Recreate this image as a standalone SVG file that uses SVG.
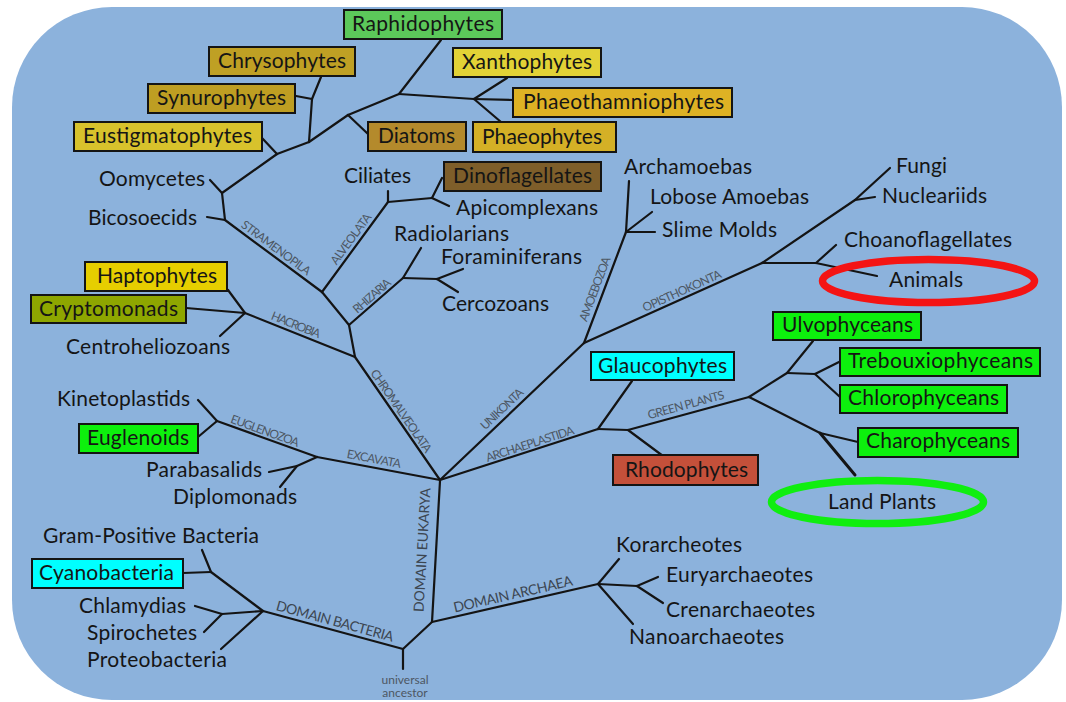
<svg xmlns="http://www.w3.org/2000/svg" width="1066" height="702" viewBox="0 0 1066 702">
<style>
.t{font-family:Lato,"Open Sans","DejaVu Sans",sans-serif;font-size:21px;fill:#151515}
.bx{stroke:#141414;stroke-width:2}
.cl{font-family:Lato,"Open Sans","DejaVu Sans",sans-serif;font-size:12px;fill:#4c5763;text-anchor:middle}
.dl{font-family:Lato,"Open Sans","DejaVu Sans",sans-serif;font-size:14px;fill:#3c4651;text-anchor:middle}
.ua{font-family:Lato,"Open Sans","DejaVu Sans",sans-serif;font-size:12px;fill:#4c5763;text-anchor:middle}
#connectors line{stroke:#141414;stroke-width:2.2;stroke-linecap:round}
.ring{fill:none;stroke-width:7.5}
</style>
<rect x="12" y="7" width="1050" height="693" rx="100" ry="100" fill="#8CB2DC"/>
<g id="connectors">
<line x1="321" y1="77" x2="312" y2="99"/>
<line x1="296" y1="96" x2="312" y2="99"/>
<line x1="312" y1="99" x2="309" y2="142"/>
<line x1="309" y1="142" x2="348" y2="115"/>
<line x1="348" y1="115" x2="399" y2="94"/>
<line x1="348" y1="115" x2="368" y2="134"/>
<line x1="399" y1="94" x2="441" y2="40"/>
<line x1="399" y1="94" x2="474" y2="99"/>
<line x1="474" y1="99" x2="507" y2="78"/>
<line x1="474" y1="99" x2="513" y2="100"/>
<line x1="474" y1="99" x2="501" y2="122"/>
<line x1="309" y1="142" x2="277" y2="154"/>
<line x1="262" y1="138" x2="277" y2="154"/>
<line x1="277" y1="154" x2="222" y2="193"/>
<line x1="210" y1="180" x2="222" y2="193"/>
<line x1="222" y1="193" x2="225" y2="220"/>
<line x1="207" y1="217" x2="225" y2="220"/>
<line x1="225" y1="220" x2="322" y2="292"/>
<line x1="322" y1="292" x2="388" y2="202"/>
<line x1="388" y1="191" x2="388" y2="202"/>
<line x1="388" y1="202" x2="432" y2="198"/>
<line x1="432" y1="198" x2="442" y2="178"/>
<line x1="432" y1="198" x2="449" y2="206"/>
<line x1="322" y1="292" x2="349" y2="325"/>
<line x1="349" y1="325" x2="403" y2="278"/>
<line x1="403" y1="278" x2="421" y2="248"/>
<line x1="403" y1="278" x2="437" y2="279"/>
<line x1="437" y1="279" x2="463" y2="269"/>
<line x1="437" y1="279" x2="458" y2="292"/>
<line x1="349" y1="325" x2="355" y2="357"/>
<line x1="228" y1="290" x2="245" y2="313"/>
<line x1="186" y1="308" x2="245" y2="313"/>
<line x1="220" y1="336" x2="245" y2="313"/>
<line x1="245" y1="313" x2="355" y2="357"/>
<line x1="355" y1="357" x2="440" y2="480"/>
<line x1="198" y1="400" x2="217" y2="421"/>
<line x1="198" y1="437" x2="217" y2="421"/>
<line x1="217" y1="421" x2="317" y2="457"/>
<line x1="317" y1="457" x2="297" y2="466"/>
<line x1="269" y1="472" x2="297" y2="466"/>
<line x1="280" y1="487" x2="297" y2="466"/>
<line x1="317" y1="457" x2="440" y2="480"/>
<line x1="440" y1="480" x2="584" y2="343"/>
<line x1="584" y1="343" x2="626" y2="232"/>
<line x1="626" y1="232" x2="629" y2="181"/>
<line x1="626" y1="232" x2="652" y2="212"/>
<line x1="626" y1="232" x2="655" y2="232"/>
<line x1="584" y1="343" x2="762" y2="263"/>
<line x1="762" y1="263" x2="855" y2="200"/>
<line x1="855" y1="200" x2="890" y2="168"/>
<line x1="855" y1="200" x2="875" y2="197"/>
<line x1="762" y1="263" x2="816" y2="263"/>
<line x1="816" y1="263" x2="836" y2="245"/>
<line x1="816" y1="263" x2="877" y2="276"/>
<line x1="440" y1="480" x2="598" y2="429"/>
<line x1="598" y1="429" x2="632" y2="381"/>
<line x1="598" y1="429" x2="628" y2="430"/>
<line x1="628" y1="430" x2="663" y2="456"/>
<line x1="628" y1="430" x2="749" y2="397"/>
<line x1="749" y1="397" x2="787" y2="373"/>
<line x1="787" y1="373" x2="813" y2="341"/>
<line x1="787" y1="373" x2="815" y2="374"/>
<line x1="815" y1="374" x2="839" y2="362"/>
<line x1="815" y1="374" x2="840" y2="397"/>
<line x1="749" y1="397" x2="820" y2="433"/>
<line x1="820" y1="433" x2="858" y2="442"/>
<line x1="820" y1="433" x2="855" y2="475" style="stroke-width:3"/>
<line x1="440" y1="481" x2="432" y2="622"/>
<line x1="432" y1="622" x2="403" y2="649"/>
<line x1="403" y1="649" x2="403" y2="669"/>
<line x1="432" y1="622" x2="598" y2="584"/>
<line x1="598" y1="584" x2="619" y2="559"/>
<line x1="598" y1="584" x2="637" y2="586"/>
<line x1="637" y1="586" x2="658" y2="577"/>
<line x1="637" y1="586" x2="663" y2="603"/>
<line x1="598" y1="584" x2="633" y2="624"/>
<line x1="403" y1="649" x2="263" y2="611"/>
<line x1="263" y1="611" x2="211" y2="572"/>
<line x1="211" y1="572" x2="202" y2="550"/>
<line x1="183" y1="573" x2="211" y2="572"/>
<line x1="263" y1="611" x2="222" y2="614"/>
<line x1="222" y1="614" x2="195" y2="606"/>
<line x1="222" y1="614" x2="204" y2="632"/>
<line x1="263" y1="611" x2="221" y2="649"/>
</g>
<g id="clade-labels">
<text class="cl" transform="translate(276,248) rotate(36.6)" y="4" textLength="83">STRAMENOPILA</text>
<text class="cl" transform="translate(351,239) rotate(-53.7)" y="4" textLength="60">ALVEOLATA</text>
<text class="cl" transform="translate(372,296) rotate(-41)" y="4" textLength="46">RHIZARIA</text>
<text class="cl" transform="translate(296,325) rotate(21.8)" y="4" textLength="52">HACROBIA</text>
<text class="cl" transform="translate(401,411) rotate(55.4)" y="4" textLength="98">CHROMALVEOLATA</text>
<text class="cl" transform="translate(265,431) rotate(19.8)" y="4" textLength="72">EUGLENOZOA</text>
<text class="cl" transform="translate(374,459) rotate(10.6)" y="4" textLength="55">EXCAVATA</text>
<text class="cl" transform="translate(502,409) rotate(-43.6)" y="4" textLength="54">UNIKONTA</text>
<text class="cl" transform="translate(530,444) rotate(-17.9)" y="4" textLength="92">ARCHAEPLASTIDA</text>
<text class="cl" transform="translate(595,289) rotate(-69.3)" y="4" textLength="68">AMOEBOZOA</text>
<text class="cl" transform="translate(682,291) rotate(-24.2)" y="4" textLength="85">OPISTHOKONTA</text>
<text class="cl" transform="translate(686,405) rotate(-15.3)" y="4" textLength="79">GREEN PLANTS</text>
<text class="dl" transform="translate(335,621) rotate(15.2)" y="5" textLength="121">DOMAIN BACTERIA</text>
<text class="dl" transform="translate(422,550) rotate(-86.8)" y="5" textLength="124">DOMAIN EUKARYA</text>
<text class="dl" transform="translate(513,594) rotate(-12.9)" y="5" textLength="122">DOMAIN ARCHAEA</text>
</g>
<g id="raphidophytes"><rect class="bx" x="344" y="10" width="158" height="29" fill="#5CC85A"/><text class="t" x="352" y="31" textLength="142">Raphidophytes</text></g>
<g id="chrysophytes"><rect class="bx" x="209" y="47" width="146" height="29" fill="#BFA024"/><text class="t" x="218" y="68" textLength="128">Chrysophytes</text></g>
<g id="synurophytes"><rect class="bx" x="148" y="84" width="147" height="29" fill="#BE9E22"/><text class="t" x="157" y="105" textLength="129">Synurophytes</text></g>
<g id="eustigmatophytes"><rect class="bx" x="74" y="122" width="188" height="29" fill="#D8C22C"/><text class="t" x="83" y="143" textLength="169">Eustigmatophytes</text></g>
<g id="diatoms"><rect class="bx" x="368" y="122" width="98" height="29" fill="#B48A2C"/><text class="t" x="378" y="143" textLength="77">Diatoms</text></g>
<g id="xanthophytes"><rect class="bx" x="453" y="48" width="148" height="29" fill="#E2D236"/><text class="t" x="462" y="69" textLength="130">Xanthophytes</text></g>
<g id="phaeothamniophytes"><rect class="bx" x="513" y="88" width="219" height="29" fill="#DEB224"/><text class="t" x="523" y="109" textLength="201">Phaeothamniophytes</text></g>
<g id="phaeophytes"><rect class="bx" x="473" y="122" width="143" height="30" fill="#D4B026"/><text class="t" x="482" y="144" textLength="120">Phaeophytes</text></g>
<g id="oomycetes"><text class="t" x="99" y="186" textLength="106">Oomycetes</text></g>
<g id="bicosoecids"><text class="t" x="88" y="225" textLength="109">Bicosoecids</text></g>
<g id="ciliates"><text class="t" x="344" y="183" textLength="67">Ciliates</text></g>
<g id="dinoflagellates"><rect class="bx" x="444" y="162" width="157" height="29" fill="#7E5E2A"/><text class="t" x="453" y="183" textLength="139">Dinoflagellates</text></g>
<g id="apicomplexans"><text class="t" x="456" y="215" textLength="142">Apicomplexans</text></g>
<g id="radiolarians"><text class="t" x="394" y="241" textLength="115">Radiolarians</text></g>
<g id="foraminiferans"><text class="t" x="441" y="264" textLength="141">Foraminiferans</text></g>
<g id="cercozoans"><text class="t" x="442" y="311" textLength="107">Cercozoans</text></g>
<g id="haptophytes"><rect class="bx" x="85" y="262" width="142" height="29" fill="#E6CE00"/><text class="t" x="97" y="283" textLength="120">Haptophytes</text></g>
<g id="cryptomonads"><rect class="bx" x="31" y="295" width="155" height="28" fill="#8EA600"/><text class="t" x="39" y="316" textLength="139">Cryptomonads</text></g>
<g id="centroheliozoans"><text class="t" x="66" y="354" textLength="164">Centroheliozoans</text></g>
<g id="kinetoplastids"><text class="t" x="57" y="406" textLength="133">Kinetoplastids</text></g>
<g id="euglenoids"><rect class="bx" x="79" y="424" width="119" height="29" fill="#0DF00D"/><text class="t" x="87" y="445" textLength="102">Euglenoids</text></g>
<g id="parabasalids"><text class="t" x="146" y="477" textLength="116">Parabasalids</text></g>
<g id="diplomonads"><text class="t" x="173" y="504" textLength="124">Diplomonads</text></g>
<g id="archamoebas"><text class="t" x="624" y="174" textLength="128">Archamoebas</text></g>
<g id="lobose-amoebas"><text class="t" x="650" y="204" textLength="159">Lobose Amoebas</text></g>
<g id="slime-molds"><text class="t" x="662" y="237" textLength="115">Slime Molds</text></g>
<g id="fungi"><text class="t" x="896" y="173" textLength="51">Fungi</text></g>
<g id="nucleariids"><text class="t" x="882" y="203" textLength="105">Nucleariids</text></g>
<g id="choanoflagellates"><text class="t" x="844" y="247" textLength="168">Choanoflagellates</text></g>
<g id="animals"><ellipse class="ring" cx="928.5" cy="281" rx="106" ry="21.5" stroke="#F41414"/><text class="t" x="889" y="287" textLength="74">Animals</text></g>
<g id="glaucophytes"><rect class="bx" x="591" y="352" width="143" height="28" fill="#00FFFF"/><text class="t" x="598" y="373" textLength="129">Glaucophytes</text></g>
<g id="rhodophytes"><rect class="bx" x="613" y="455" width="145" height="30" fill="#C4503A"/><text class="t" x="625" y="477" textLength="123">Rhodophytes</text></g>
<g id="ulvophyceans"><rect class="bx" x="773" y="312" width="148" height="28" fill="#0DF00D"/><text class="t" x="782" y="332" textLength="131">Ulvophyceans</text></g>
<g id="trebouxiophyceans"><rect class="bx" x="840" y="348" width="200" height="28" fill="#0DF00D"/><text class="t" x="848" y="368" textLength="185">Trebouxiophyceans</text></g>
<g id="chlorophyceans"><rect class="bx" x="840" y="385" width="167" height="28" fill="#0DF00D"/><text class="t" x="848" y="405" textLength="151">Chlorophyceans</text></g>
<g id="charophyceans"><rect class="bx" x="858" y="428" width="160" height="29" fill="#0DF00D"/><text class="t" x="866" y="448" textLength="144">Charophyceans</text></g>
<g id="land-plants"><ellipse class="ring" cx="877.5" cy="502" rx="106" ry="21.5" stroke="#10EE10"/><text class="t" x="828" y="509" textLength="108">Land Plants</text></g>
<g id="gram-positive-bacteria"><text class="t" x="43" y="543" textLength="216">Gram-Positive Bacteria</text></g>
<g id="cyanobacteria"><rect class="bx" x="32" y="559" width="151" height="29" fill="#00FFFF"/><text class="t" x="39" y="580" textLength="135">Cyanobacteria</text></g>
<g id="chlamydias"><text class="t" x="79" y="613" textLength="107">Chlamydias</text></g>
<g id="spirochetes"><text class="t" x="87" y="640" textLength="110">Spirochetes</text></g>
<g id="proteobacteria"><text class="t" x="87" y="667" textLength="140">Proteobacteria</text></g>
<g id="universal-ancestor"><text class="ua" x="405" y="684">universal</text><text class="ua" x="405" y="697">ancestor</text></g>
<g id="korarcheotes"><text class="t" x="616" y="552" textLength="126">Korarcheotes</text></g>
<g id="euryarchaeotes"><text class="t" x="666" y="582" textLength="147">Euryarchaeotes</text></g>
<g id="crenarchaeotes"><text class="t" x="666" y="617" textLength="149">Crenarchaeotes</text></g>
<g id="nanoarchaeotes"><text class="t" x="629" y="644" textLength="155">Nanoarchaeotes</text></g>
</svg>
